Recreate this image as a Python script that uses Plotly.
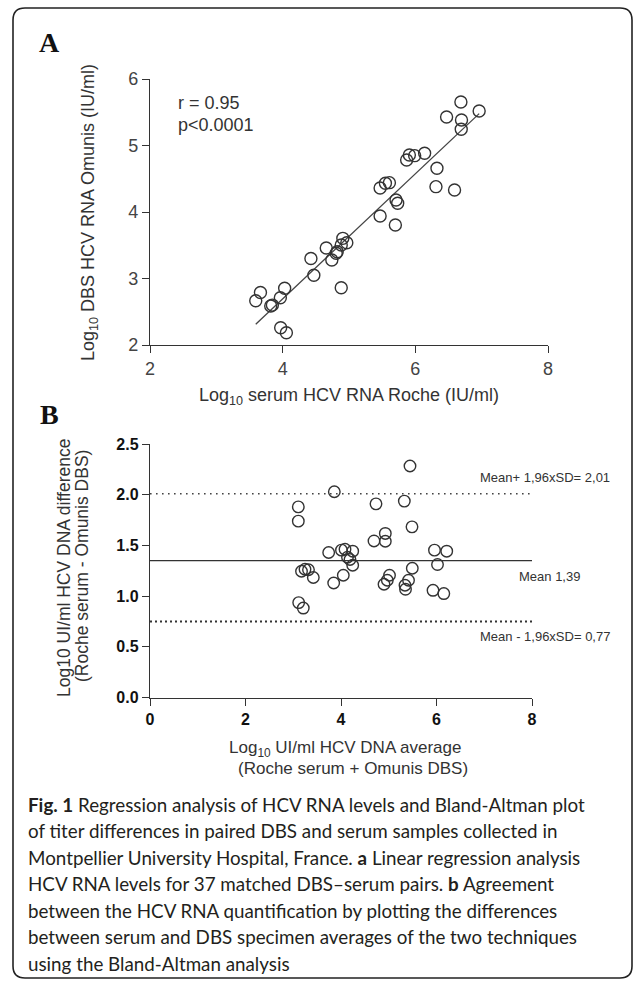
import numpy as np
import plotly.graph_objects as go

W, H = 634, 981

# ---------------- Panel A data: log10 serum Roche (x) vs log10 DBS Omunis (y)
roche_serum = [3.665, 3.594, 4.030, 3.965, 3.845, 3.820, 3.970, 4.056, 4.426, 4.470,
               4.657, 4.741, 4.807, 4.907, 4.967, 4.883, 4.822, 4.883, 6.687, 6.962,
               6.471, 6.696, 6.692, 5.910, 5.869, 5.990, 6.140, 6.326, 6.311, 6.591,
               5.609, 5.549, 5.469, 5.709, 5.734, 5.469, 5.699]
omunis_dbs = [2.790, 2.666, 2.853, 2.711, 2.600, 2.587, 2.260, 2.185, 3.300, 3.048,
              3.459, 3.278, 3.379, 3.604, 3.538, 3.504, 3.403, 2.862, 5.654, 5.519,
              5.429, 5.383, 5.244, 4.857, 4.782, 4.847, 4.883, 4.657, 4.381, 4.331,
              4.441, 4.432, 4.361, 4.180, 4.131, 3.940, 3.805]
stats_text = ["r = 0.95", "p<0.0001"]
a_x_ticks = [2, 4, 6, 8]
a_y_ticks = [2, 3, 4, 5, 6]

# ---------------- Panel B data: Bland-Altman (average vs difference)
ba_average = [3.106, 3.106, 3.173, 3.246, 3.319, 3.420, 3.114, 3.210, 5.445, 3.860,
              4.733, 5.326, 5.487, 4.928, 4.691, 4.928, 3.742, 4.010, 4.084, 4.245,
              4.136, 4.188, 4.245, 5.958, 6.214, 6.021, 5.493, 4.048, 3.847, 5.016,
              4.970, 4.901, 5.414, 5.340, 5.351, 5.927, 6.153]
ba_difference = [1.880, 1.739, 1.245, 1.265, 1.260, 1.183, 0.936, 0.882, 2.283, 2.029,
                 1.910, 1.937, 1.683, 1.618, 1.544, 1.541, 1.430, 1.453, 1.462, 1.443,
                 1.383, 1.361, 1.304, 1.453, 1.443, 1.311, 1.275, 1.206, 1.129, 1.206,
                 1.156, 1.117, 1.156, 1.107, 1.067, 1.057, 1.025]
ba_upper, ba_mean, ba_lower = 2.01, 1.35, 0.75
ba_line_x = [0, 8]
ba_labels = ["Mean+ 1,96xSD= 2,01", "Mean 1,39", "Mean - 1,96xSD= 0,77"]
b_x_ticks = [0, 2, 4, 6, 8]
b_y_ticks = [0, 0.5, 1, 1.5, 2, 2.5]

caption_lines = [
    "<b>Fig. 1</b> Regression analysis of HCV RNA levels and Bland-Altman plot",
    "of titer differences in paired DBS and serum samples collected in",
    "Montpellier University Hospital, France. <b>a</b> Linear regression analysis",
    "HCV RNA levels for 37 matched DBS\u2013serum pairs. <b>b</b> Agreement",
    "between the HCV RNA quantification by plotting the differences",
    "between serum and DBS specimen averages of the two techniques",
    "using the Bland-Altman analysis",
]


def px(x):
    return x / W


def py(y):
    return 1 - y / H


SANS = "Liberation Sans, Arial, sans-serif"
INK = "#2a2a2a"

fig = go.Figure()

# Panel A scatter + regression
slope, intercept = np.polyfit(roche_serum, omunis_dbs, 1)
fit_x = np.array([min(roche_serum), max(roche_serum)])
fig.add_trace(go.Scatter(x=fit_x, y=slope * fit_x + intercept, mode="lines",
                         line=dict(color="#444", width=1.3), xaxis="x", yaxis="y",
                         showlegend=False, hoverinfo="skip"))
fig.add_trace(go.Scatter(x=roche_serum, y=omunis_dbs, mode="markers",
                         marker=dict(symbol="circle-open", size=12,
                                     color="#333", line=dict(width=1.4)),
                         xaxis="x", yaxis="y", showlegend=False, cliponaxis=False))

# Panel B lines + scatter
fig.add_trace(go.Scatter(x=ba_line_x, y=[ba_upper] * 2, mode="lines",
                         line=dict(color="#444", width=1.6, dash="1.6px,4.4px"),
                         xaxis="x2", yaxis="y2", showlegend=False))
fig.add_trace(go.Scatter(x=ba_line_x, y=[ba_mean] * 2, mode="lines",
                         line=dict(color="#333", width=1.3),
                         xaxis="x2", yaxis="y2", showlegend=False))
fig.add_trace(go.Scatter(x=ba_line_x, y=[ba_lower] * 2, mode="lines",
                         line=dict(color="#333", width=2, dash="2px,3px"),
                         xaxis="x2", yaxis="y2", showlegend=False))
fig.add_trace(go.Scatter(x=ba_average, y=ba_difference, mode="markers",
                         marker=dict(symbol="circle-open", size=11.5,
                                     color="#333", line=dict(width=1.4)),
                         xaxis="x2", yaxis="y2", showlegend=False, cliponaxis=False))

axis_common = dict(showline=True, linecolor="#333", linewidth=1.4, ticks="outside",
                   ticklen=7, tickwidth=1.3, tickcolor="#333", showgrid=False,
                   zeroline=False, automargin=False, fixedrange=True)

fig.update_layout(
    width=W, height=H, autosize=False,
    margin=dict(l=0, r=0, t=0, b=0),
    paper_bgcolor="white", plot_bgcolor="white",
    template="none",
    font=dict(family=SANS, color=INK),
    xaxis=dict(domain=[px(150), px(548)], range=[2, 8], tickvals=a_x_ticks,
               ticktext=[str(v) for v in a_x_ticks],
               anchor="y", tickfont=dict(size=18, color="#444"), **axis_common),
    yaxis=dict(domain=[py(345), py(79)], range=[2, 6], tickvals=a_y_ticks,
               ticktext=[str(v) for v in a_y_ticks],
               anchor="x", tickfont=dict(size=18, color="#444"), **axis_common),
    xaxis2=dict(domain=[px(150), px(532)], range=[0, 8], tickvals=b_x_ticks,
                ticktext=[f"<b>{v}</b>" for v in b_x_ticks],
                anchor="y2", tickfont=dict(size=16, color="#111"), **axis_common),
    yaxis2=dict(domain=[py(697.5), py(444)], range=[0, 2.5], tickvals=b_y_ticks,
                ticktext=[f"<b>{v:.1f}</b>" for v in b_y_ticks],
                anchor="x2", tickfont=dict(size=16, color="#111"), **axis_common),
)

ann = []


def add(text, x, y, size, xanchor="center", yanchor="middle", angle=0, family=SANS, color=INK):
    ann.append(dict(text=text, x=px(x), y=py(y), xref="paper", yref="paper",
                    showarrow=False, xanchor=xanchor, yanchor=yanchor, textangle=angle,
                    font=dict(size=size, family=family, color=color)))


add("<b>A</b>", 37, 42, 28, xanchor="left", family="Liberation Serif, Times New Roman, serif", color="#111")
add("<b>B</b>", 38, 415, 28, xanchor="left", family="Liberation Serif, Times New Roman, serif", color="#111")
add(stats_text[0], 176, 103, 18, xanchor="left", color="#333")
add(stats_text[1], 176, 125, 18, xanchor="left", color="#333")
add("Log<sub>10</sub> DBS HCV RNA Omunis (IU/ml)", 89, 212, 18, angle=-90, color="#333")
add("Log<sub>10</sub> serum HCV RNA Roche (IU/ml)", 349, 396, 18, color="#333")

add("Log10 UI/ml HCV DNA difference", 64, 568, 17.5, angle=-90, color="#333")
add("(Roche serum - Omunis DBS)", 82, 566, 17.5, angle=-90, color="#333")
add("Log<sub>10</sub> UI/ml HCV DNA average", 345, 749, 17, color="#333")
add("(Roche serum + Omunis DBS)", 353, 768, 17, color="#333")

add(ba_labels[0], 612, 477, 13, xanchor="right", color="#333")
add(ba_labels[1], 517, 576, 13, xanchor="left", color="#333")
add(ba_labels[2], 612, 636, 13, xanchor="right", color="#333")

cap_y0, cap_dy = 804, 26.5
for i, line in enumerate(caption_lines):
    add(line, 26, cap_y0 + i * cap_dy, 18.8, xanchor="left",
        family="Lato, Noto Sans, sans-serif", color="#231f20")

fig.update_layout(annotations=ann)

# rounded frame around the whole figure
L, T, R, B, r = 13, 8, 632, 978, 12
path = (f"M {px(L)},{py(T + r)} Q {px(L)},{py(T)} {px(L + r)},{py(T)} "
        f"L {px(R - r)},{py(T)} Q {px(R)},{py(T)} {px(R)},{py(T + r)} "
        f"L {px(R)},{py(B - r)} Q {px(R)},{py(B)} {px(R - r)},{py(B)} "
        f"L {px(L + r)},{py(B)} Q {px(L)},{py(B)} {px(L)},{py(B - r)} Z")
fig.add_shape(type="path", path=path, xref="paper", yref="paper",
              line=dict(color="#222", width=1.6), fillcolor="rgba(0,0,0,0)", layer="above")

fig.write_html("out.html", config={"displayModeBar": False},
               post_script="document.body.style.margin='0';document.body.style.padding='0';"
                           "document.documentElement.style.overflow='hidden';")
